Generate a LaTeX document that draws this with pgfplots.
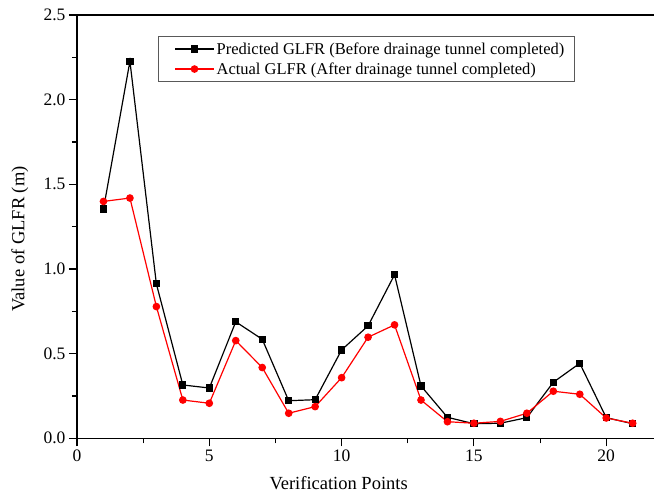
\documentclass[border=0pt]{standalone}
\usepackage{fontspec}
\setmainfont{Liberation Serif}
\usepackage{pgfplots}
\pgfplotsset{compat=1.18}
\newcommand{\tickfont}{\fontsize{17.5bp}{20bp}\selectfont}
\newcommand{\labfont}{\fontsize{18.5bp}{21bp}\selectfont}
\newcommand{\legfont}{\fontsize{16.5bp}{19bp}\selectfont}
\begin{document}
\begin{tikzpicture}
\begin{axis}[
  at={(0,0)}, anchor=south west,
  scale only axis,
  width=584bp, height=423.3bp,
  xmin=0, xmax=22.07, ymin=0, ymax=2.5,
  xtick={0,5,10,15,20}, ytick={0,0.5,1,1.5,2,2.5},
  minor x tick num=1, minor y tick num=1,
  xtick pos=bottom, ytick pos=left,
  tick align=outside,
  major tick length=8bp, minor tick length=5bp,
  every tick/.style={black, line width=1.1bp},
  axis line style={line width=1.2bp},
  /pgf/number format/assume math mode=true,
  tick label style={font=\tickfont},
  yticklabel style={/pgf/number format/.cd, fixed, fixed zerofill, precision=1},
  xlabel={Verification Points},
  ylabel={Value of GLFR (m)},
  label style={font=\labfont},
  xlabel style={at={(axis description cs:0.448,-0.1221)}, anchor=base},
  ylabel style={at={(axis description cs:-0.0899,0.4708)}, anchor=base, rotate=0},
  legend cell align=left,
  legend style={at={(axis description cs:0.1387,0.9504)}, anchor=north west,
    draw=black!65, line width=0.8bp, font=\legfont,
    inner xsep=8bp, inner ysep=4bp, row sep=3bp},
  legend image code/.code={\path (0bp,0bp); \draw[mark repeat=2,mark phase=2,#1] plot coordinates {(8bp,0bp)(27.5bp,0bp)(47bp,0bp)};},
]
\addplot[black, line width=1.2bp, mark=square*, mark size=3bp] coordinates {
(1,1.354) (2,2.227) (3,0.912) (4,0.315) (5,0.297) (6,0.688) (7,0.585)
(8,0.222) (9,0.228) (10,0.522) (11,0.664) (12,0.966) (13,0.309) (14,0.124)
(15,0.086) (16,0.089) (17,0.122) (18,0.331) (19,0.443) (20,0.122) (21,0.086)};
\addlegendentry{Predicted GLFR (Before drainage tunnel completed)}
\addplot[red, line width=1.2bp, mark=*, mark size=3.2bp] coordinates {
(1,1.399) (2,1.419) (3,0.778) (4,0.226) (5,0.207) (6,0.577) (7,0.418)
(8,0.148) (9,0.187) (10,0.358) (11,0.597) (12,0.670) (13,0.226) (14,0.098)
(15,0.089) (16,0.100) (17,0.148) (18,0.278) (19,0.260) (20,0.120) (21,0.089)};
\addlegendentry{Actual GLFR (After drainage tunnel completed)}
\end{axis}
\pgfresetboundingbox
\path (-77bp,-56.7bp) rectangle (577bp,438.3bp);
\end{tikzpicture}
\end{document}
